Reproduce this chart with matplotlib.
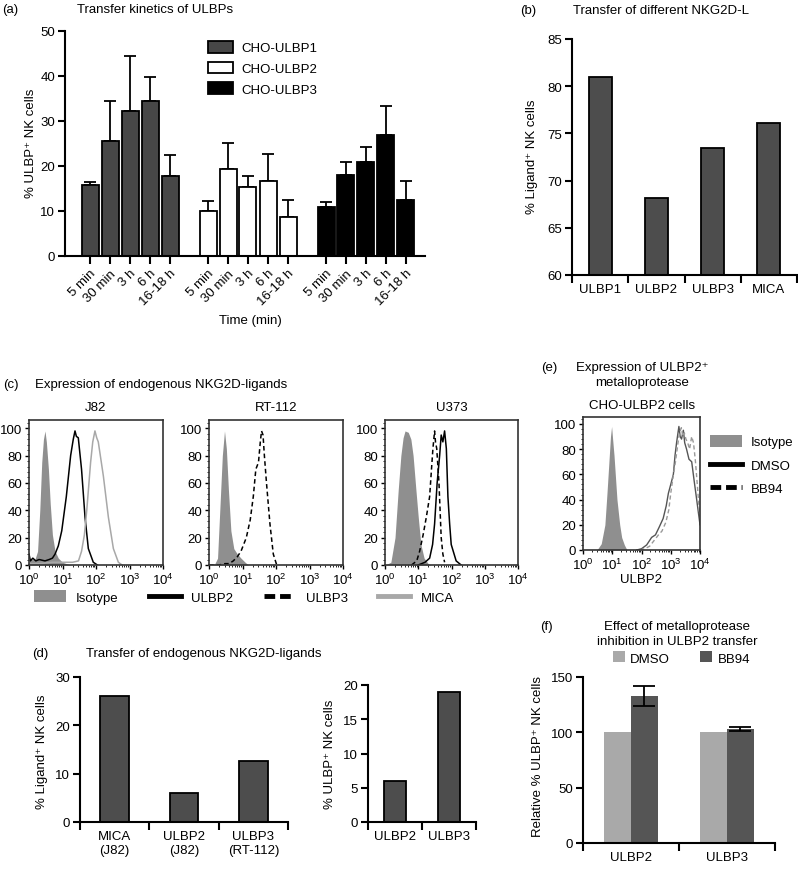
import matplotlib
matplotlib.use("Agg")
import matplotlib.pyplot as plt
from matplotlib.patches import Patch
from matplotlib.lines import Line2D
from matplotlib.ticker import MultipleLocator, FixedLocator, LogLocator, NullFormatter

plt.rcParams['font.family'] = ['Liberation Sans', 'DejaVu Sans']
plt.rcParams['mathtext.fontset'] = 'custom'
plt.rcParams['mathtext.rm'] = 'Liberation Sans'
plt.rcParams['mathtext.it'] = 'Liberation Sans:italic'
plt.rcParams['font.size'] = 9.5

# (a) transfer kinetics
times = ["5 min", "30 min", "3 h", "6 h", "16-18 h"]
kin_names = ["CHO-ULBP1", "CHO-ULBP2", "CHO-ULBP3"]
kin_ulbp1 = [15.8, 25.6, 32.3, 34.4, 17.8]
kin_ulbp1_top = [16.4, 34.5, 44.5, 39.8, 22.4]
kin_ulbp2 = [10.1, 19.4, 15.4, 16.7, 8.6]
kin_ulbp2_top = [12.2, 25.2, 17.8, 22.7, 12.4]
kin_ulbp3 = [11.0, 18.1, 20.8, 27.0, 12.5]
kin_ulbp3_top = [12.0, 20.9, 24.3, 33.4, 16.6]

# (b) transfer of different ligands
lig_names = ["ULBP1", "ULBP2", "ULBP3", "MICA"]
lig_vals = [81.0, 68.2, 73.5, 76.1]

# (c) flow histograms (fluorescence, % of max)
j82_iso_x = [1, 1.5, 1.8, 2.1, 2.4, 2.7, 3.0, 3.3, 3.8, 4.3, 5.0, 6.0, 7.5, 10, 15, 20]
j82_iso_y = [4, 4, 10, 40, 75, 92, 98, 90, 70, 45, 22, 10, 5, 2, 0.5, 0]
j82_ulbp2_x = [1, 1.1, 1.3, 1.6, 2, 3, 4, 5, 6, 7.5, 9.5, 13, 17.5, 21, 23.6, 26, 29.6, 37, 47, 59, 83, 110]
j82_ulbp2_y = [8, 3, 5, 3, 4, 3, 4, 5, 8, 14, 25, 50, 80, 92, 98, 94, 93, 70, 35, 12, 2, 0]
j82_mica_x = [1, 2, 5, 10, 20, 30, 37, 45, 53, 69, 80, 93, 105, 117, 166, 234, 330, 465, 600]
j82_mica_y = [1, 1, 2, 2, 2, 3, 10, 22, 40, 75, 90, 98, 93, 90, 65, 35, 12, 2, 0]

rt_iso_x = [1, 1.5, 1.8, 2.1, 2.5, 2.9, 3.3, 3.8, 4.5, 5.5, 7, 9, 12, 15]
rt_iso_y = [1, 1, 5, 40, 80, 98, 85, 55, 25, 12, 8, 5, 2, 0]
rt_ulbp3_x = [1, 2, 3, 4, 5.3, 7, 9, 13, 17, 21, 25, 30, 34, 37, 41, 45, 52, 66, 83, 105]
rt_ulbp3_y = [0, 0, 1, 1, 3, 6, 10, 20, 33, 50, 70, 75, 90, 98, 95, 80, 60, 30, 8, 0]

u_iso_x = [1, 1.5, 2, 2.5, 3, 3.5, 4, 5, 6, 7, 8.5, 10, 12, 15, 20, 25]
u_iso_y = [0, 2, 20, 55, 80, 93, 98, 97, 92, 80, 55, 35, 15, 5, 1, 0]
u_ulbp3_x = [6.3, 9, 11, 14, 17.5, 22, 25, 27.6, 31, 33, 36, 42, 49, 55, 62]
u_ulbp3_y = [0, 3, 10, 22, 35, 50, 70, 85, 98, 90, 85, 60, 20, 8, 2]
u_ulbp2_x = [10, 16, 22, 27, 31, 37, 44, 49, 55, 62, 70, 78, 88, 98, 138, 195]
u_ulbp2_y = [0, 2, 5, 15, 30, 60, 80, 95, 90, 98, 85, 50, 30, 15, 3, 0]

# (d) transfer of endogenous ligands
endo_names = ["MICA\n(J82)", "ULBP2\n(J82)", "ULBP3\n(RT-112)"]
endo_vals = [26.0, 6.1, 12.7]
endo2_names = ["ULBP2", "ULBP3"]
endo2_vals = [6.0, 19.0]

# (e) CHO-ULBP2 histograms
e_iso_x = [3, 4.2, 5.6, 6.6, 7.7, 8.7, 9.5, 10.3, 11.5, 14.5, 18, 21, 26, 32]
e_iso_y = [0, 5, 20, 45, 70, 90, 98, 88, 75, 40, 20, 10, 4, 0]
e_dmso_x = [69, 100, 150, 222, 300, 400, 550, 700, 830, 1000, 1230, 1400, 1580, 1900, 2100,
            2340, 2700, 3000, 3470, 4200, 5200, 6300, 7700, 9000, 10000]
e_dmso_y = [0, 1, 4, 10, 12, 18, 25, 35, 45, 52, 60, 75, 85, 98, 90, 88, 95, 85, 80, 72, 70,
            55, 40, 28, 20]
e_bb94_x = [90, 130, 190, 280, 380, 500, 680, 860, 1000, 1200, 1450, 1700, 1950, 2300, 2600,
            2900, 3300, 3800, 4400, 5200, 6000, 7000, 8200, 9200, 10000]
e_bb94_y = [0, 1, 3, 8, 12, 15, 22, 32, 45, 58, 70, 82, 92, 97, 90, 93, 88, 85, 80, 90, 85,
            70, 50, 35, 25]

# (f) metalloprotease inhibition
inh_names = ["ULBP2", "ULBP3"]
inh_dmso = [100, 100]
inh_bb94 = [133, 103]
inh_bb94_err = [9, 2]

W, H = 798, 870
fig = plt.figure(figsize=(W / 100, H / 100), dpi=100)

BAR = '#4d4d4d'
ISO = '#8f8f8f'
SPW = 1.5


def px_axes(l, t, r, b):
    return fig.add_axes([l / W, 1 - b / H, (r - l) / W, (b - t) / H])


def label(x, y, s, ha='left', **kw):
    fig.text(x / W, 1 - y / H, s, ha=ha, va='center', **kw)


def bar_style(ax):
    for s in ['top', 'right']:
        ax.spines[s].set_visible(False)
    for s in ['left', 'bottom']:
        ax.spines[s].set_linewidth(SPW)
    ax.tick_params(axis='y', direction='out', length=5, width=SPW, pad=2)
    ax.tick_params(axis='x', which='major', length=0, pad=6)
    ax.tick_params(axis='x', which='minor', direction='out', length=6, width=SPW)


def cat_axis(ax, names):
    n = len(names)
    ax.set_xlim(-0.5, n - 0.5)
    ax.set_xticks(range(n))
    ax.set_xticklabels(names)
    ax.xaxis.set_minor_locator(FixedLocator([i - 0.5 for i in range(n + 1)]))


def hist_style(ax):
    ax.set_xscale('log')
    ax.set_xlim(1, 1e4)
    ax.set_ylim(0, 106)
    for s in ax.spines.values():
        s.set_linewidth(1.2)
        s.set_color('#333333')
    ax.yaxis.set_major_locator(FixedLocator([0, 20, 40, 60, 80, 100]))
    ax.yaxis.set_minor_locator(MultipleLocator(4))
    ax.xaxis.set_major_locator(LogLocator(base=10, numticks=10))
    ax.xaxis.set_minor_locator(LogLocator(base=10, subs=range(2, 10), numticks=10))
    ax.xaxis.set_minor_formatter(NullFormatter())
    ax.tick_params(which='major', direction='out', length=3, width=1, pad=2)
    ax.tick_params(which='minor', direction='out', length=1.5, width=0.6)


# ---------------- (a)
ax = px_axes(65, 32, 425, 257)
bar_style(ax)
offsets = [0, 5.9, 11.8]
kin_vals = [kin_ulbp1, kin_ulbp2, kin_ulbp3]
kin_tops = [kin_ulbp1_top, kin_ulbp2_top, kin_ulbp3_top]
kin_colors = ['#474747', 'white', 'black']
ticks, ticklabels = [], []
for off, vals, tops, col, name in zip(offsets, kin_vals, kin_tops, kin_colors, kin_names):
    xs = [off + i for i in range(len(times))]
    up = [t - v for t, v in zip(tops, vals)]
    ax.bar(xs, vals, width=0.85, color=col, edgecolor='black', linewidth=1.3, label=name,
           zorder=2)
    ax.errorbar(xs, vals, yerr=[[0] * len(vals), up], fmt='none', ecolor='black',
                elinewidth=1.3, capsize=4.5, capthick=1.3, zorder=1)
    ticks += xs
    ticklabels += times
ax.set_xlim(-1.25, 16.75)
ax.set_ylim(0, 50)
ax.set_yticks([0, 10, 20, 30, 40, 50])
ax.set_xticks(ticks)
ax.set_xticklabels(ticklabels, rotation=45, ha='right', rotation_mode='anchor')
ax.tick_params(axis='x', which='major', direction='out', length=6, width=SPW, pad=2)
ax.legend(loc='upper left', bbox_to_anchor=((208 - 65) / 360, 1 - (42 - 32) / 225),
          frameon=False, handlelength=1.9, handleheight=1.0, labelspacing=0.55,
          handletextpad=0.6, borderpad=0, borderaxespad=0)
label(2, 10, "(a)")
label(77, 10, "Transfer kinetics of ULBPs")
label(250, 321, "Time (min)", ha='center')
label(31, 143, "% ULBP⁺ NK cells", ha='center', rotation=90)

# ---------------- (b)
ax = px_axes(572, 40, 797, 276)
bar_style(ax)
ax.bar(range(len(lig_names)), lig_vals, width=0.41, color=BAR, edgecolor='black',
       linewidth=1.3)
cat_axis(ax, lig_names)
ax.set_ylim(60, 85)
ax.set_yticks([60, 65, 70, 75, 80, 85])
label(520, 11, "(b)")
label(573, 11, "Transfer of different NKG2D-L")
label(532, 157, "% Ligand⁺ NK cells", ha='center', rotation=90)

# ---------------- (c)
hist_sets = [
    ("J82", 29, 163, [("iso", j82_iso_x, j82_iso_y), ("ulbp2", j82_ulbp2_x, j82_ulbp2_y),
                      ("mica", j82_mica_x, j82_mica_y)]),
    ("RT-112", 209, 343, [("iso", rt_iso_x, rt_iso_y), ("ulbp3", rt_ulbp3_x, rt_ulbp3_y)]),
    ("U373", 385, 518, [("iso", u_iso_x, u_iso_y), ("ulbp3", u_ulbp3_x, u_ulbp3_y),
                        ("ulbp2", u_ulbp2_x, u_ulbp2_y)]),
]
for title, l, r, curves in hist_sets:
    ax = px_axes(l, 421, r, 566)
    hist_style(ax)
    for kind, xs, ys in curves:
        if kind == "iso":
            ax.fill_between(xs, ys, color=ISO, lw=0)
        elif kind == "ulbp2":
            ax.plot(xs, ys, color='black', lw=1.1)
        elif kind == "ulbp3":
            ax.plot(xs, ys, color='black', lw=1.1, ls=(0, (3, 2)))
        else:
            ax.plot(xs, ys, color='#a8a8a8', lw=1.1)
    label((l + r) / 2, 408, title, ha='center')
label(3, 385, "(c)")
label(35, 385, "Expression of endogenous NKG2D-ligands")
c_handles = [Patch(facecolor=ISO, edgecolor='none'),
             Line2D([], [], color='black', lw=3.5),
             Line2D([], [], color='black', lw=3.5, ls=(0, (2.2, 1))),
             Line2D([], [], color='#a8a8a8', lw=3.5)]
fig.legend(c_handles, ["Isotype", "ULBP2", "ULBP3", "MICA"], ncol=4, loc='center left',
           bbox_to_anchor=(34 / W, 1 - 598 / H), frameon=False, handlelength=2.4,
           handleheight=1.0, handletextpad=0.8, columnspacing=2.3, borderpad=0,
           borderaxespad=0)

# ---------------- (e)
ax = px_axes(583, 418, 700, 551)
hist_style(ax)
ax.set_ylim(0, 105.5)
ax.fill_between(e_iso_x, e_iso_y, color=ISO, lw=0)
ax.plot(e_dmso_x, e_dmso_y, color='#555555', lw=1.0)
ax.plot(e_bb94_x, e_bb94_y, color='#999999', lw=1.0, ls=(0, (3, 2)))
e_handles = [Patch(facecolor=ISO, edgecolor='none'),
             Line2D([], [], color='black', lw=3.5),
             Line2D([], [], color='black', lw=3.5, ls=(0, (2.2, 1)))]
ax.legend(e_handles, ["Isotype", "DMSO", "BB94"], loc='upper left',
          bbox_to_anchor=((710 - 583) / 117, 1 - (436 - 418) / 133), frameon=False,
          handlelength=2.4, handleheight=1.0, labelspacing=0.75, handletextpad=0.7,
          borderpad=0, borderaxespad=0)
label(541, 368, "(e)")
label(642, 368, "Expression of ULBP2⁺", ha='center')
label(642, 383, "metalloprotease", ha='center')
label(642, 406, "CHO-ULBP2 cells", ha='center')
label(641, 580, "ULBP2", ha='center')

# ---------------- (d)
ax = px_axes(80, 678, 288, 823)
bar_style(ax)
ax.bar(range(len(endo_names)), endo_vals, width=0.41, color=BAR, edgecolor='black',
       linewidth=1.3)
cat_axis(ax, endo_names)
ax.set_ylim(0, 30)
ax.set_yticks([0, 10, 20, 30])

ax = px_axes(368, 686, 476, 823)
bar_style(ax)
ax.bar(range(len(endo2_names)), endo2_vals, width=0.4, color=BAR, edgecolor='black',
       linewidth=1.3)
cat_axis(ax, endo2_names)
ax.set_ylim(0, 20)
ax.set_yticks([0, 5, 10, 15, 20])
label(32, 654, "(d)")
label(86, 654, "Transfer of endogenous NKG2D-ligands")
label(42, 752, "% Ligand⁺ NK cells", ha='center', rotation=90)
label(330, 754, "% ULBP⁺ NK cells", ha='center', rotation=90)

# ---------------- (f)
ax = px_axes(583, 678, 775, 844)
bar_style(ax)
bw = 0.28
xs = list(range(len(inh_names)))
ax.bar([x - bw / 2 for x in xs], inh_dmso, width=bw, color='#a9a9a9', label='DMSO')
ax.bar([x + bw / 2 for x in xs], inh_bb94, width=bw, color='#555555', label='BB94')
ax.errorbar([x + bw / 2 for x in xs], inh_bb94, yerr=inh_bb94_err, fmt='none',
            ecolor='black', elinewidth=1.3, capsize=8, capthick=1.3)
cat_axis(ax, inh_names)
ax.set_ylim(0, 150)
ax.set_yticks([0, 50, 100, 150])
ax.legend(loc='center left', bbox_to_anchor=((613 - 583) / 192, 1 + (678 - 659) / 166),
          ncol=2, frameon=False, handlelength=0.9, handleheight=0.9, handletextpad=0.4,
          columnspacing=2.3, borderpad=0, borderaxespad=0)
label(540, 627, "(f)")
label(677, 627, "Effect of metalloprotease", ha='center')
label(677, 642, "inhibition in ULBP2 transfer", ha='center')
label(538, 757, "Relative % ULBP⁺ NK cells", ha='center', rotation=90)

fig.savefig("out.png", dpi=100)
